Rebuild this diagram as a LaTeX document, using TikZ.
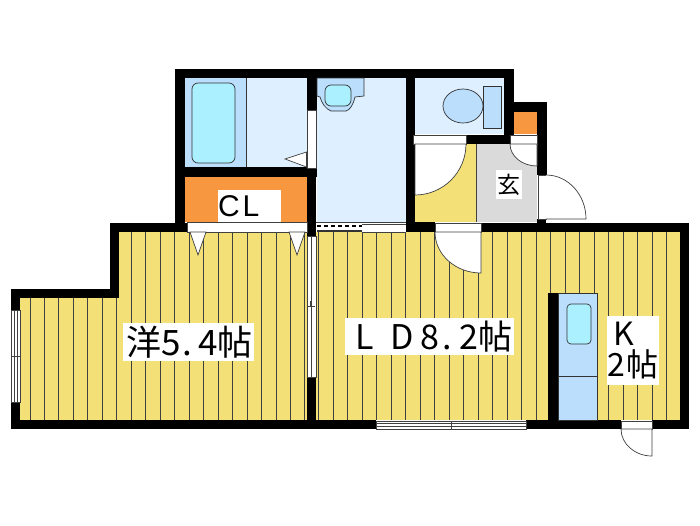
\documentclass[tikz,border=0pt]{standalone}
\usepackage{fontspec}
\setmainfont{Liberation Sans}
\newfontfamily\cjk{Noto Sans CJK JP}
\definecolor{floorcol}{RGB}{243,225,120}
\definecolor{wetcol}{RGB}{222,240,255}
\definecolor{tubcol}{RGB}{186,222,252}
\definecolor{watercol}{RGB}{170,240,255}
\definecolor{clcol}{RGB}{247,152,64}
\definecolor{hallcol}{RGB}{218,218,218}
\tikzset{
  wall/.style={fill=black,draw=none},
  board/.style={draw=black!75,line width=0.9pt},
  thin line/.style={draw=black!75,line width=0.5pt},
  fixture/.style={draw=black!80,line width=0.7pt},
  doorleaf/.style={draw=black!75,fill=white,line width=0.7pt},
  label/.style={fill=white,inner sep=0pt,font=\cjk,text=black}
}
\begin{document}
\begin{tikzpicture}[x=1pt,y=-1pt]
\useasboundingbox (0,0) rectangle (700,525);
\fill[white] (0,0) rectangle (700,525);

% Floors
\fill[floorcol] (119,232) -- (307,232) -- (307,420) -- (20,420) -- (20,298) -- (119,298) -- cycle;
\fill[floorcol] (316,232) rectangle (680,420);
\fill[floorcol] (415,144) rectangle (476,222);
\fill[hallcol] (476,144) rectangle (537,222);
\fill[wetcol] (185,78) rectangle (307,168);
\fill[wetcol] (317,78) rectangle (406,223);
\fill[wetcol] (415,78) rectangle (504,134);
\fill[clcol] (185,177) rectangle (307,222);
\fill[clcol] (514,111) rectangle (537,134);
\draw[thin line] (476,144) -- (476,222);

% Floor boards
\foreach \x in {30,44.47,...,306}
    \draw[board] (\x,{\x<118 ? 298 : 232}) -- (\x,420);
\foreach \x in {318.5,333,...,670}
    \draw[board] (\x,232) -- (\x,420);

% Walls
\fill[wall] (175,69) rectangle (514,78);
\fill[wall] (175,69) rectangle (185,232);
\fill[wall] (185,167) rectangle (317,177);
\fill[wall] (307,69) rectangle (317,110);
\fill[wall] (307,168) rectangle (316,236);
\fill[wall] (406,69) rectangle (415,232);
\fill[wall] (504,69) rectangle (514,144);
\fill[wall] (466,135) rectangle (510,144);
\fill[wall] (514,102) rectangle (547,111.5);
\fill[wall] (537,102) rectangle (547,175);
\fill[wall] (110,223) rectangle (187,232);
\fill[wall] (110,223) rectangle (119,298);
\fill[wall] (11,289) rectangle (119,298);
\fill[wall] (11,289) rectangle (20,310);
\fill[wall] (11,402) rectangle (20,429);
\fill[wall] (11,420) rectangle (376,429);
\fill[wall] (307,377) rectangle (316,429);
\fill[wall] (406,222) rectangle (435,232);
\fill[wall] (481,223) rectangle (689,232);
\fill[wall] (680,223) rectangle (689,429);
\fill[wall] (526,420) rectangle (621,429);
\fill[wall] (652,420) rectangle (689,429);
\fill[wall] (548,293) rectangle (558,420);
\fill[wall] (537,219) rectangle (546,232);

% Bathroom
\fill[tubcol] (185,78) rectangle (246,167);
\draw[fixture,fill=watercol,rounded corners=6pt] (192,83) rectangle (235,163);
\draw[fixture] (246,78) -- (246,167);
\draw[doorleaf] (306.5,152) -- (285,159) -- (306.5,167) -- cycle;

% Washbasin
\draw[fixture,fill=tubcol] (317,78) -- (364,78) -- (364,96) -- (355,97) .. controls (353,105) and (350,110) .. (346,111) -- (331,111) .. controls (326,109) and (322,104) .. (320,97) -- (317,96) -- cycle;
\draw[fixture,fill=watercol,rounded corners=6pt] (325,85) rectangle (351,106);

% Toilet
\draw[fixture,fill=tubcol] (463,106) ellipse (20 and 17);
\draw[fixture,fill=tubcol] (483,86) rectangle (501,128);

% Sink
\draw[fixture,fill=tubcol] (558,293) rectangle (597,420);
\draw[fixture] (558,376) -- (597,376);
\draw[fixture,fill=watercol,rounded corners=4pt] (567,304) rectangle (591,344);

% Doors
\draw[doorleaf] (307,110) rectangle (316,168);
\draw[doorleaf] (187,222) rectangle (307,232);
\draw[doorleaf] (190,232) -- (206,232) -- (198,255) -- cycle;
\draw[doorleaf] (289,232) -- (305,232) -- (297,255) -- cycle;
\draw[doorleaf] (307,236) rectangle (316,377);
\draw[thin line] (311.5,236) -- (311.5,377);
\draw[thin line] (308,306) -- (315,306);
\draw[thin line] (310,301) -- (310,306);
\draw[doorleaf] (413,135) rectangle (466,144);
\draw[doorleaf] (415,144) -- (466,144) arc[start angle=0,end angle=90,radius=51] -- cycle;
\draw[doorleaf] (510,135) rectangle (537,144);
\draw[doorleaf] (510,144) -- (537,144) -- (537,166) arc[start angle=90,end angle=180,x radius=27,y radius=22] -- cycle;
\draw[doorleaf] (538,175) rectangle (546,219);
\draw[doorleaf] (546,175) arc[start angle=-90,end angle=0,x radius=40,y radius=44] -- (546,219);
\draw[doorleaf] (435,223) rectangle (481,232);
\draw[doorleaf] (435,232) -- (481,232) -- (481,273) arc[start angle=90,end angle=180,x radius=46,y radius=41] -- cycle;
\draw[doorleaf] (621,421) rectangle (652,429);
\draw[doorleaf] (621,429) -- (652,429) -- (652,456) arc[start angle=90,end angle=180,x radius=31,y radius=27] -- cycle;

% Windows
\draw[doorleaf] (376,421) rectangle (526,429);
\draw[thin line] (376,423.5) -- (526,423.5);
\draw[thin line] (376,426) -- (526,426);
\draw[thin line] (451,421) -- (451,429);
\draw[doorleaf] (11,310) rectangle (20,402);
\draw[thin line] (14,310) -- (14,402);
\draw[thin line] (17,310) -- (17,402);
\draw[thin line] (11,356) -- (20,356);
\fill[white] (316,223) rectangle (406,232);
\draw[thin line] (362,224) -- (406,224);
\draw[thin line] (316,222.5) -- (406,222.5);
\draw[thin line] (362,232) -- (406,232);
\draw[black,line width=1.2pt,dash pattern=on 4pt off 3pt] (317,226) -- (362,226);
\fill[black!80] (317,230) rectangle (362,232);

% Labels
\node[label,text width=63pt,minimum height=32pt,align=left,font=\fontsize{30}{30}\selectfont] (cl) at (249.5,206) {C\kern3pt L};
\node[label,minimum width=26pt,minimum height=29pt,font=\cjk\fontsize{23}{23}\selectfont] (genkan) at (509,184.5) {玄};
\node[label,minimum width=131pt,minimum height=38pt,font=\cjk\fontsize{35}{35}\selectfont] (yoshitsu) at (188.5,342) {\kern2pt 洋5\kern2pt.\kern6pt 4帖};
\node[label,minimum width=169pt,minimum height=37pt,font=\cjk\fontsize{34}{34}\selectfont] (ld) at (429.5,336.5) {\kern9pt L\kern16pt D\kern7pt 8\kern3pt.\kern7pt 2帖};
\node[label,minimum width=52pt,minimum height=69pt,align=center,font=\cjk\fontsize{32}{31}\selectfont] (kitchen) at (633,350.5) {K\kern18pt\\2\kern2pt帖};
\end{tikzpicture}
\end{document}
